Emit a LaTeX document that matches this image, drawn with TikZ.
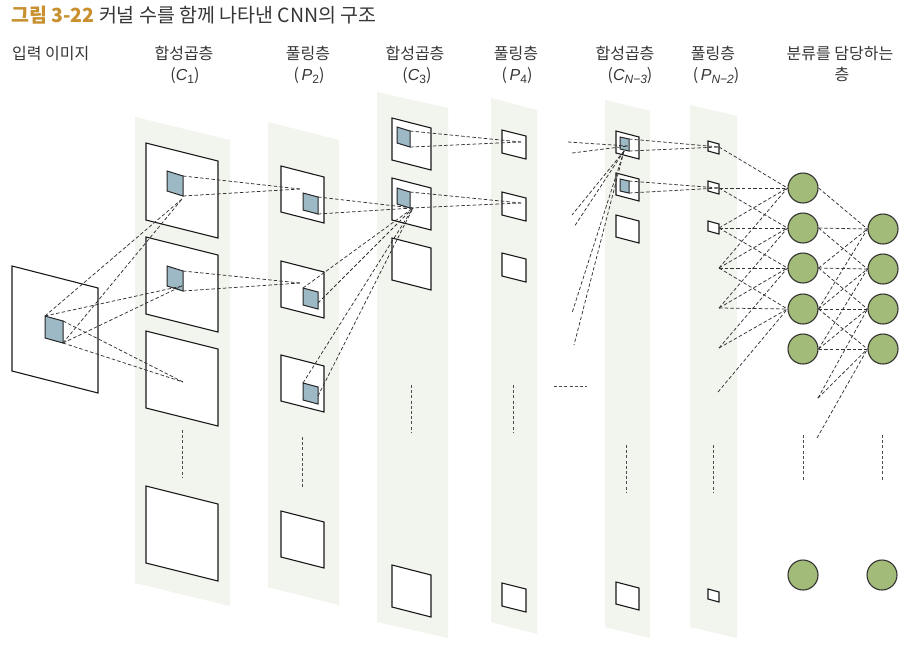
\documentclass[tikz,border=0pt]{standalone}
\usepackage{fontspec}
\setmainfont{Noto Sans CJK KR}
\newfontfamily\lat{Liberation Sans}
\definecolor{stripc}{HTML}{F2F4EE}
\definecolor{patchc}{HTML}{9DB9C5}
\definecolor{neuronc}{HTML}{A3BB78}
\definecolor{ttlc}{HTML}{C8902E}
\definecolor{txtc}{HTML}{363636}
\newcommand{\mysub}[1]{\raisebox{-0.38ex}{\fontsize{12}{12}\selectfont\lat #1}}
\newcommand{\psq}[7]{%
 \coordinate (#2-tl) at (#3,#4);
 \coordinate (#2-tr) at ({#3+#5},{#4+#7});
 \coordinate (#2-br) at ({#3+#5},{#4+#7+#6});
 \coordinate (#2-bl) at (#3,{#4+#6});
 \path[#1] (#2-tl) -- (#2-tr) -- (#2-br) -- (#2-bl) -- cycle;
}
\newcommand{\pstrip}[6]{%
 \coordinate (#1-a) at (#2,#3);
 \coordinate (#1-b) at ({#2+#4},{#3+#5});
 \coordinate (#1-c) at ({#2+#4},{#6+#5});
 \coordinate (#1-d) at (#2,#6);
 \fill[stripc] (#1-a) -- (#1-b) -- (#1-c) -- (#1-d) -- cycle;
}
\begin{document}
\begin{tikzpicture}[x=1pt,y=-1pt,
 sqs/.style={draw=black!90, fill=white, line width=1.1pt, line join=miter},
 patchs/.style={draw=black!85, fill=patchc, line width=1pt},
 dl/.style={draw=black!80, dash pattern=on 3.5pt off 2.2pt, line width=0.75pt},
 vdots/.style={draw=black!70, dash pattern=on 3pt off 2.2pt, line width=0.9pt},
 neur/.style={circle, draw=black!80, fill=neuronc, line width=1.1pt, minimum size=30pt, inner sep=0pt},
 hdr/.style={text=txtc, font=\fontsize{16}{18}\selectfont, anchor=base, inner sep=0pt},
]
\useasboundingbox (0,0) rectangle (911,649);
\fill[white] (0,0) rectangle (911,649);

% title
\node[anchor=base west, inner sep=0pt, font=\fontsize{19.5}{21}\selectfont] (title) at (11,22)
 {{\color{ttlc}\bfseries 그림 3-22}\ {\color{txtc}커널 수를 함께 나타낸 CNN의 구조}};

% headers
\node[hdr, anchor=base west] (h0) at (12,59) {입력 이미지};
\node[hdr] (h1) at (184,59) {합성곱층};
\node[hdr] (h1b) at (185,80) {({\lat\itshape C}\mysub{1})};
\node[hdr] (h2) at (308,59) {풀링층};
\node[hdr] (h2b) at (309,80) {({\lat\itshape\,P}\mysub{2})};
\node[hdr] (h3) at (415,59) {합성곱층};
\node[hdr] (h3b) at (417,80) {({\lat\itshape C}\mysub{3})};
\node[hdr] (h4) at (516,59) {풀링층};
\node[hdr] (h4b) at (517,80) {({\lat\itshape\,P}\mysub{4})};
\node[hdr] (h5) at (625,59) {합성곱층};
\node[hdr] (h5b) at (630,80) {({\lat\itshape C}\mysub{\itshape N−3})};
\node[hdr] (h6) at (713,59) {풀링층};
\node[hdr] (h6b) at (716,80) {({\lat\itshape\,P}\mysub{\itshape N−2})};
\node[hdr] (h7) at (840,59) {분류를 담당하는};
\node[hdr] (h7b) at (842,80) {층};

% strips
\pstrip{s1}{135}{117}{95}{23}{583}
\pstrip{s2}{268}{122}{71}{18}{587}
\pstrip{s3}{377}{92}{71}{16}{622}
\pstrip{s4}{491}{98}{46}{12}{622}
\pstrip{s5}{605}{100}{45}{11}{627}
\pstrip{s6}{690}{105}{47}{11}{627}

% input image
\psq{sqs}{in}{12}{266}{86}{105}{22}
\psq{patchs}{inp}{45}{316}{18}{22}{5}

% C1
\psq{sqs}{ca}{146}{143}{72}{77}{18}
\psq{sqs}{cb}{146}{237}{72}{77}{18}
\psq{sqs}{cc}{146}{331}{72}{77}{18}
\psq{sqs}{cd}{146}{486}{72}{77}{18}
\psq{patchs}{cap}{167}{171}{16}{20}{5}
\psq{patchs}{cbp}{167}{266}{16}{20}{5}

% P2
\psq{sqs}{pa}{281}{166}{43}{46}{11}
\psq{sqs}{pb}{281}{261}{43}{46}{11}
\psq{sqs}{pc}{281}{355}{43}{46}{11}
\psq{sqs}{pd}{281}{511}{43}{46}{11}
\psq{patchs}{pap}{303}{193}{15}{17}{4}
\psq{patchs}{pbp}{303}{288}{15}{17}{4}
\psq{patchs}{pcp}{303}{383}{15}{17}{4}

% C3
\psq{sqs}{da}{392}{118}{39}{42}{10}
\psq{sqs}{db}{392}{178}{39}{42}{10}
\psq{sqs}{dc}{392}{238}{39}{42}{10}
\psq{sqs}{dd}{392}{565}{39}{42}{10}
\psq{patchs}{dap}{397}{127}{13}{16}{4}
\psq{patchs}{dbp}{397}{188}{13}{16}{4}

% P4
\psq{sqs}{qa}{502}{130}{24}{23}{6}
\psq{sqs}{qb}{502}{192}{24}{23}{6}
\psq{sqs}{qc}{502}{253}{24}{23}{6}
\psq{sqs}{qd}{502}{583}{24}{23}{6}

% C N-3
\psq{sqs}{ea}{616}{131}{23}{22}{6}
\psq{sqs}{eb}{616}{173}{23}{22}{6}
\psq{sqs}{ec}{616}{215}{23}{22}{6}
\psq{sqs}{ed}{616}{582}{23}{22}{6}
\psq{patchs}{eap}{620}{137}{9}{12}{2}
\psq{patchs}{ebp}{620}{179}{9}{12}{2}

% P N-2
\psq{sqs}{ra}{708}{141}{11}{10}{3}
\psq{sqs}{rb}{708}{181}{11}{10}{3}
\psq{sqs}{rc}{708}{221}{11}{10}{3}
\psq{sqs}{rd}{708}{589}{11}{10}{3}

% vertical ellipses
\coordinate (v1a) at (182,430); \coordinate (v1b) at (182,478);
\coordinate (v2a) at (302,437); \coordinate (v2b) at (302,487);
\coordinate (v3a) at (411,385); \coordinate (v3b) at (411,433);
\coordinate (v4a) at (513,385); \coordinate (v4b) at (513,433);
\coordinate (v5a) at (626,445); \coordinate (v5b) at (626,493);
\coordinate (v6a) at (713,445); \coordinate (v6b) at (713,493);
\coordinate (v7a) at (803,435); \coordinate (v7b) at (803,481);
\coordinate (v8a) at (882,435); \coordinate (v8b) at (882,481);
\foreach \k in {1,...,8} \draw[vdots] (v\k a) -- (v\k b);
\coordinate (el1) at (554,386); \coordinate (el2) at (587,386);
\draw[vdots] (el1) -- (el2);

% target points
\coordinate (t1) at (182,199);
\coordinate (t2) at (182,286);
\coordinate (t3) at (183,382);
\coordinate (u1) at (300,189);
\coordinate (u2) at (300,283);
\coordinate (vv) at (413,208);
\coordinate (w1) at (521,142);
\coordinate (w2) at (521,203);
\coordinate (ez) at (628,146);
\coordinate (eo) at (624,151);
\coordinate (pbr) at (318,303);
\coordinate (pcr) at (318,396);

% input -> C1
\draw[dl] (inp-tl) -- (t1);
\draw[dl] (inp-br) -- (t1);
\draw[dl] (inp-tl) -- (t2);
\draw[dl] (inp-br) -- (t2);
\draw[dl] (inp-tr) -- (t3);
\draw[dl] (inp-br) -- (t3);
% C1 -> P2
\draw[dl] (cap-tr) -- (u1);
\draw[dl] (cap-br) -- (u1);
\draw[dl] (cbp-tr) -- (u2);
\draw[dl] (cbp-br) -- (u2);
% P2 -> C3
\draw[dl] (pap-tr) -- (vv);
\draw[dl] (pap-br) -- (vv);
\draw[dl] (pbp-tl) -- (vv);
\draw[dl] (pbr) -- (vv);
\draw[dl] (pcp-tl) -- (vv);
\draw[dl] (pcr) -- (vv);
% C3 -> P4
\draw[dl] (dap-tr) -- (w1);
\draw[dl] (dap-br) -- (w1);
\draw[dl] (dbp-tr) -- (w2);
\draw[dl] (dbp-br) -- (w2);
% previous layer -> C N-3
\coordinate (l1) at (568,142); \coordinate (l2) at (572,153);
\coordinate (l3) at (572,215); \coordinate (l4) at (574,227);
\coordinate (l5) at (572,313); \coordinate (l6) at (574,345);
\draw[dl] (l1) -- (ez);
\draw[dl] (l2) -- (ez);
\foreach \k in {3,...,6} \draw[dl] (eo) -- (l\k);

% P N-2 points
\coordinate (n0) at (719,147);
\coordinate (n1) at (719,188);
\coordinate (n2) at (719,228);
\coordinate (n3) at (719,268);
\coordinate (n4) at (719,308);
\coordinate (n5) at (719,348);
\coordinate (n6) at (718,392);
% C N-3 -> P N-2
\draw[dl] (eap-tr) -- (n0);
\draw[dl] (eap-br) -- (n0);
\draw[dl] (ebp-tr) -- (n1);
\draw[dl] (ebp-br) -- (n1);

% FC layers
\node[neur] (f1) at (803,188) {};
\node[neur] (f2) at (803,228) {};
\node[neur] (f3) at (803,268) {};
\node[neur] (f4) at (803,309) {};
\node[neur] (f5) at (803,349) {};
\node[neur] (f9) at (803,575) {};
\node[neur] (g1) at (883,229) {};
\node[neur] (g2) at (883,269) {};
\node[neur] (g3) at (883,309) {};
\node[neur] (g4) at (883,349) {};
\node[neur] (g9) at (882,575) {};
\coordinate (fo1) at (f1.east);
\coordinate (fo2) at (f2.east);
\coordinate (fo3) at (f3.east);
\coordinate (fo4) at (f4.east);
\coordinate (fo5) at (f5.east);
\coordinate (fo6) at (818,398);
\coordinate (fo7) at (817,438);

\foreach \j in {1,...,4}{
 \foreach \k in {-1,0,1,2}{
  \pgfmathtruncatemacro\i{\j+\k}
  \draw[dl] (n\i) -- (f\j.west);
 }
}
\foreach \j in {1,...,4}{
 \foreach \k in {0,1,2,3}{
  \pgfmathtruncatemacro\i{\j+\k}
  \draw[dl] (fo\i) -- (g\j.west);
 }
}
\end{tikzpicture}
\end{document}
